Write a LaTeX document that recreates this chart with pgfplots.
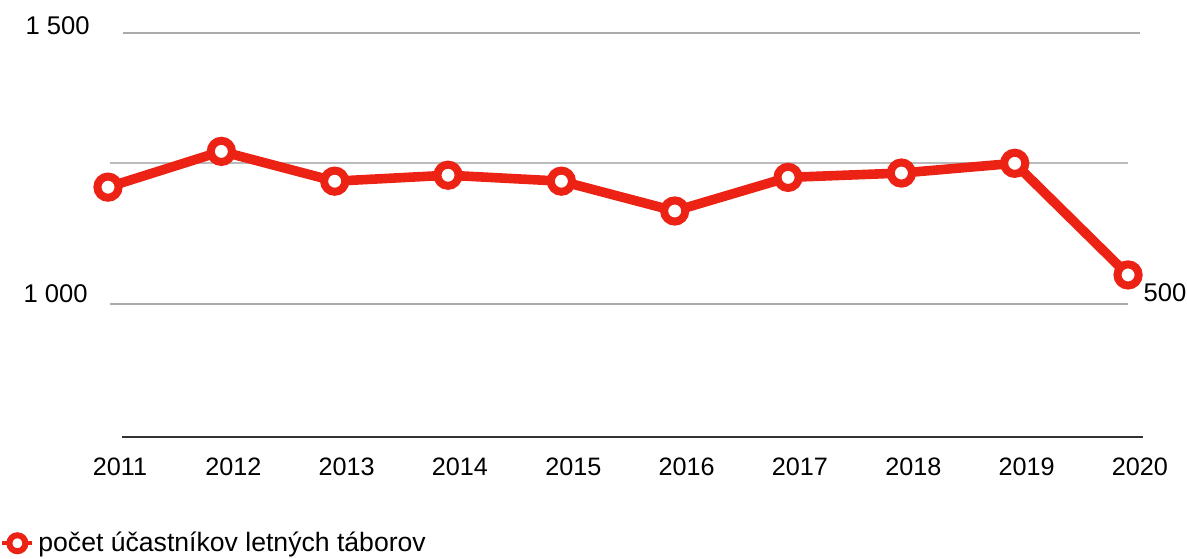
\documentclass[border=0pt]{standalone}
\usepackage{pgfplots}
\pgfplotsset{compat=1.18}
\usepackage{fontspec}
\setmainfont{Liberation Sans}
\definecolor{lred}{RGB}{236,34,20}
\definecolor{gridg}{RGB}{170,170,170}
\begin{document}
\begin{tikzpicture}
\begin{axis}[
  scale only axis,
  width=593.5pt, height=218.5pt,
  xmin=2010.047, xmax=2020.52,
  ymin=754.6, ymax=1560.9,
  axis line style={draw=none},
  clip=false,
  xtick={2011,...,2020},
  xticklabels={2011,2012,2013,2014,2015,2016,2017,2018,2019,2020},
  major tick length=0pt,
  ytick=\empty,
  every tick label/.append style={font=\fontsize{12.6}{15}\selectfont},
  xticklabel style={yshift=-6.6pt, xshift=6pt},
  legend style={at={(0,-0.2426)}, anchor=west, draw=none, fill=none, inner sep=0pt,
    font=\fontsize{13.3}{16}\selectfont},
  legend cell align=left,
  legend image code/.code={\draw[mark repeat=2,mark phase=2,#1, line width=2pt, mark size=4pt, mark options={line width=3pt, fill=white, draw=lred}] plot coordinates {(0pt,0pt)(7.5pt,0pt)(15pt,0pt)};},
]
\path ([yshift=-59.5pt]rel axis cs:0,0) rectangle (rel axis cs:1,1);
\draw[gridg, line width=1pt] (axis cs:2011.132,1500) -- (axis cs:2020.106,1500);
\draw[gridg!80, line width=0.8pt] (axis cs:2011.018,1260) -- (axis cs:2020.0,1260);
\draw[gridg, line width=1pt] (axis cs:2011.018,1000) -- (axis cs:2020.0,1000);
\draw[black!80, line width=1pt] (axis cs:2011.124,754.6) -- (axis cs:2020.13,754.6);
\node[anchor=south east, inner sep=0pt, font=\fontsize{12.8}{15}\selectfont] at (axis cs:2010.841,1496.3) {1 500};
\node[anchor=south east, inner sep=0pt, font=\fontsize{12.8}{15}\selectfont] at (axis cs:2010.824,1001.8) {1 000};
\node[anchor=south west, inner sep=0pt, font=\fontsize{12.8}{15}\selectfont] at (axis cs:2020.133,1003.7) {500};
\addplot[lred, line width=4.8pt, mark=*, mark size=5.3pt, mark options={fill=white, draw=lred, line width=4pt}] coordinates {
  (2011,1216) (2012,1282) (2013,1227) (2014,1238) (2015,1227)
  (2016,1172) (2017,1234) (2018,1242) (2019,1260) (2020,1054)
};
\addlegendentry{počet účastníkov letných táborov}
\end{axis}
\end{tikzpicture}
\end{document}
